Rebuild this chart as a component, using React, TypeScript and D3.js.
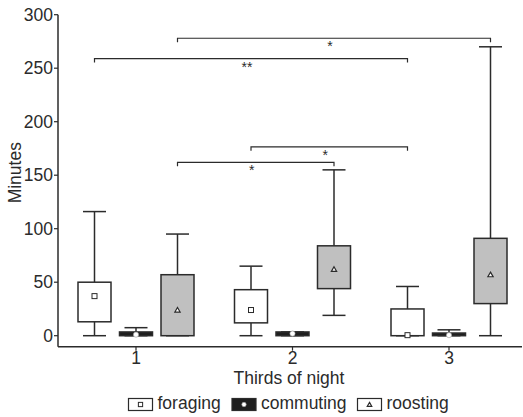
import * as d3 from 'd3'

// box stats per third of night: [whiskerLow, q1, q3, whiskerHigh, mean]
const thirds = ['1', '2', '3']
const behaviours = ['foraging', 'commuting', 'roosting']
const foraging = [
  [0, 13, 50, 116, 37],
  [0, 12, 43, 65, 24],
  [0, 0, 25, 46, 0.5],
]
const commuting = [
  [0, 0, 3.5, 7.5, 1],
  [0, 0, 3.5, 3.5, 2],
  [0, 0, 2.5, 5.5, 0.5],
]
const roosting = [
  [0, 0, 57, 95, 24],
  [19, 44, 84, 155, 62],
  [0, 30, 91, 270, 57],
]
const yTicks = [0, 50, 100, 150, 200, 250, 300]
// significance brackets: [fromThird, fromBehaviour, toThird, toBehaviour, level, label]
const brackets: [number, number, number, number, number, string][] = [
  [0, 2, 2, 2, 278, '*'],
  [0, 0, 2, 0, 259, '**'],
  [1, 0, 2, 0, 176.5, '*'],
  [0, 2, 1, 2, 162, '*'],
]

const W = 523
const H = 417
const font = '"Liberation Sans", Arial, sans-serif'
const ink = '#2b2b2b'
const fills = ['#ffffff', '#1e1e1e', '#c0c0c0']

export default function App() {
  const y = d3.scaleLinear().domain([0, 300]).range([335.7, 14.7])
  const x = d3.scalePoint().domain(thirds).range([136, 449])
  const off = d3.scalePoint().domain(behaviours).range([-41.5, 41.5])
  const axisX = 58
  const axisY = 346.7
  const boxW = 33
  const capW = 23
  const fs = 17.5
  const series = [foraging, commuting, roosting]
  const cx = (t: number, b: number) => (x(thirds[t]) as number) + (off(behaviours[b]) as number)

  const marker = (b: number, px: number, py: number, key: string, s = 1) => {
    if (b === 0) return <rect key={key} x={px - 2.5 * s} y={py - 2.5 * s} width={5 * s} height={5 * s} fill="#fff" stroke={ink} strokeWidth={1} />
    if (b === 1) return <circle key={key} cx={px} cy={py} r={2.6 * s} fill="#fff" stroke="#999" strokeWidth={0.6} />
    return <path key={key} d={d3.symbol(d3.symbolTriangle, 12 * s * s)() as string} transform={`translate(${px},${py + 0.5})`} fill="#fff" stroke={ink} strokeWidth={1.2} />
  }

  return (
    <svg width={W} height={H} style={{ position: 'absolute', left: 0, top: 0 }} fontFamily={font}>
      <rect width={W} height={H} fill="#fff" />
      {/* axes */}
      <line x1={axisX} x2={axisX} y1={y(300)} y2={axisY} stroke={ink} strokeWidth={1.5} />
      <line x1={axisX} x2={522} y1={axisY} y2={axisY} stroke={ink} strokeWidth={1.5} />
      {yTicks.map(t => (
        <g key={t}>
          <line x1={axisX - 4} x2={axisX} y1={y(t)} y2={y(t)} stroke={ink} strokeWidth={1.2} />
          <text x={axisX - 5} y={y(t)} dy="0.35em" textAnchor="end" fontSize={fs} fill={ink}>{t}</text>
        </g>
      ))}
      {thirds.map(t => (
        <g key={t}>
          <line x1={x(t)} x2={x(t)} y1={axisY} y2={axisY + 4} stroke={ink} strokeWidth={1.2} />
          <text x={x(t)} y={axisY + 17.5} textAnchor="middle" fontSize={fs} fill={ink}>{t}</text>
        </g>
      ))}
      <text x={289} y={384} textAnchor="middle" fontSize={fs} fill={ink}>Thirds of night</text>
      <text transform={`translate(21,${(y(300) + axisY) / 2 - 8}) rotate(-90)`} textAnchor="middle" fontSize={fs} fill={ink}>Minutes</text>

      {/* boxes */}
      {series.map((s, b) =>
        s.map((d, t) => {
          const c = cx(t, b)
          const [lo, q1, q3, hi, mean] = d
          return (
            <g key={`${b}-${t}`}>
              <line x1={c} x2={c} y1={y(hi)} y2={y(q3)} stroke={ink} strokeWidth={1.5} />
              <line x1={c} x2={c} y1={y(q1)} y2={y(lo)} stroke={ink} strokeWidth={1.5} />
              <line x1={c - capW / 2} x2={c + capW / 2} y1={y(hi)} y2={y(hi)} stroke={ink} strokeWidth={1.5} />
              <line x1={c - capW / 2} x2={c + capW / 2} y1={y(lo)} y2={y(lo)} stroke={ink} strokeWidth={1.5} />
              <rect x={c - boxW / 2} y={y(q3)} width={boxW} height={Math.max(y(q1) - y(q3), 1)} fill={fills[b]} stroke={ink} strokeWidth={1.5} />
              {marker(b, c, y(mean), 'm')}
            </g>
          )
        })
      )}

      {/* significance brackets */}
      {brackets.map(([t1, b1, t2, b2, lvl, lab], i) => {
        const x1 = cx(t1, b1)
        const x2 = cx(t2, b2)
        const yy = y(lvl)
        return (
          <g key={i}>
            <path d={`M${x1},${yy + 4}V${yy}H${x2}V${yy + 4}`} fill="none" stroke={ink} strokeWidth={1.2} />
            <text x={(x1 + x2) / 2 - 4} y={yy + 13} textAnchor="middle" fontSize={14} fill={ink}>{lab}</text>
          </g>
        )
      })}

      {/* legend */}
      {behaviours.map((name, b) => {
        const lx = [128.5, 232, 357.5][b]
        return (
          <g key={name}>
            <rect x={lx} y={398.5} width={24} height={12} fill={b === 1 ? fills[1] : '#fff'} stroke={ink} strokeWidth={1.2} />
            {marker(b, lx + 12, 404.5, 'lm', 0.85)}
            <text x={lx + 29} y={409} fontSize={fs} fill={ink}>{name}</text>
          </g>
        )
      })}
    </svg>
  )
}
